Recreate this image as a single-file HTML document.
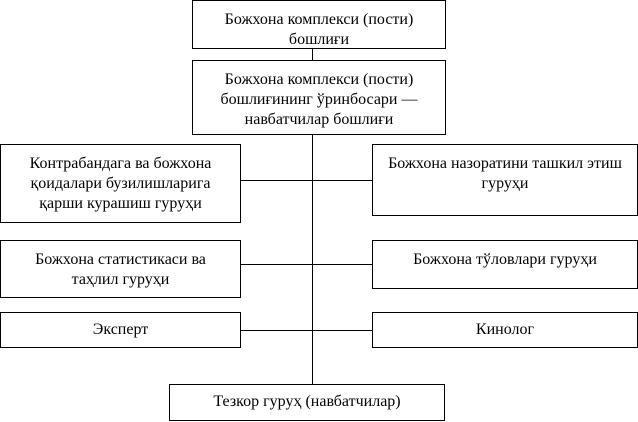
<!DOCTYPE html>
<html><head><meta charset="utf-8"><style>
html,body{margin:0;padding:0;background:#fff;width:638px;height:422px;overflow:hidden;position:relative}
.b{position:absolute;box-sizing:border-box;border:1px solid #000;background:#fff;font-family:"Liberation Serif",serif;font-size:16px;line-height:20px;text-align:center;color:#000;padding-top:9px;white-space:nowrap}
.l{position:absolute;background:#000}
</style></head><body>
<div class="l" style="left:312px;top:48px;width:1px;height:337px"></div>
<div class="l" style="left:240px;top:180px;width:133px;height:1px"></div>
<div class="l" style="left:240px;top:264px;width:133px;height:1px"></div>
<div class="l" style="left:240px;top:330px;width:133px;height:1px"></div>

<div class="b" style="left:192px;top:0;width:254px;height:49px">Божхона комплекси (пости)<br>бошлиғи</div>
<div class="b" style="left:192px;top:60px;width:254px;height:75px">Божхона комплекси (пости)<br>бошлиғининг ўринбосари —<br>навбатчилар бошлиғи</div>

<div class="b" style="left:0;top:144px;width:241px;height:79px">Контрабандага ва божхона<br>қоидалари бузилишларига<br>қарши курашиш гуруҳи</div>
<div class="b" style="left:372px;top:144px;width:266px;height:72px">Божхона назоратини ташкил этиш<br>гуруҳи</div>

<div class="b" style="left:0;top:240px;width:241px;height:58px">Божхона статистикаси ва<br>таҳлил гуруҳи</div>
<div class="b" style="left:372px;top:240px;width:266px;height:49px">Божхона тўловлари гуруҳи</div>

<div class="b" style="left:0;top:312px;width:241px;height:36px;padding-top:7px">Эксперт</div>
<div class="b" style="left:372px;top:312px;width:266px;height:36px;padding-top:7px">Кинолог</div>

<div class="b" style="left:169px;top:384px;width:276px;height:37px;padding-top:7px">Тезкор гуруҳ (навбатчилар)</div>
</body></html>
